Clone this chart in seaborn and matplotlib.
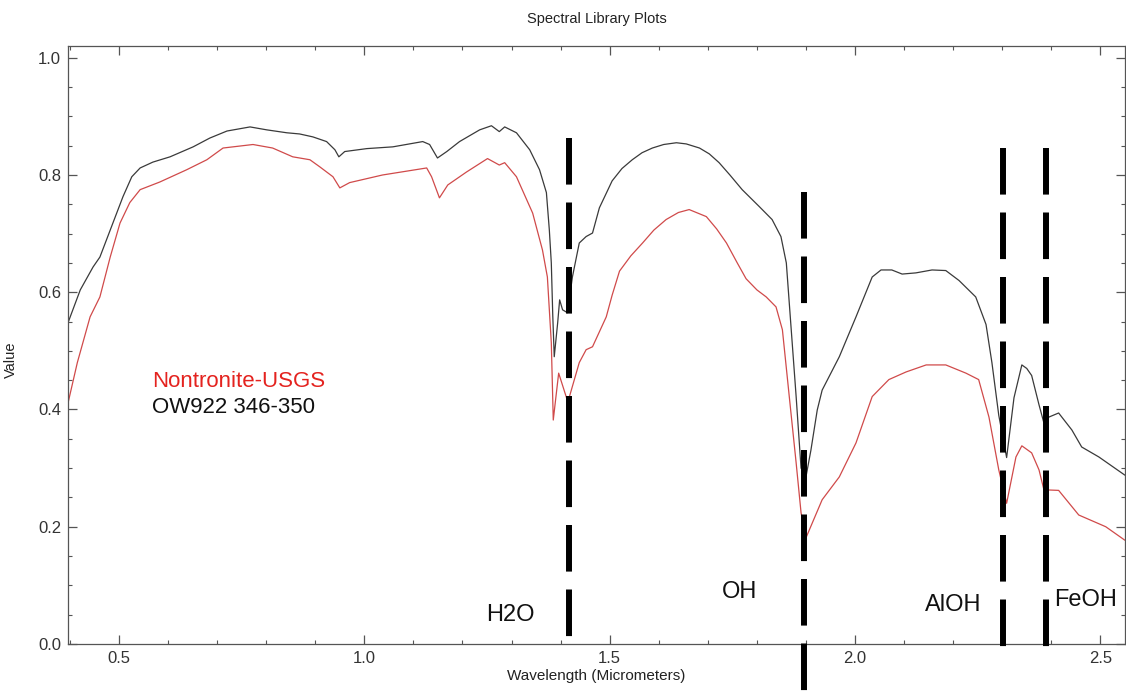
import numpy as np
import pandas as pd
import matplotlib
matplotlib.use("Agg")
import matplotlib.pyplot as plt
import seaborn as sns

# OW922 346-350 spectrum (black)
ow_wavelength = [0.396, 0.421, 0.447, 0.461, 0.482, 0.508, 0.526, 0.543, 0.569, 0.604,
                 0.651, 0.685, 0.720, 0.767, 0.801, 0.842, 0.868, 0.895, 0.923, 0.940,
                 0.948, 0.960, 1.005, 1.058, 1.119, 1.133, 1.149, 1.168, 1.194, 1.235,
                 1.259, 1.275, 1.286, 1.310, 1.337, 1.357, 1.371, 1.377, 1.381, 1.384,
                 1.387, 1.394, 1.398, 1.404, 1.414, 1.424, 1.438, 1.452, 1.465, 1.479,
                 1.505, 1.525, 1.546, 1.566, 1.587, 1.610, 1.636, 1.656, 1.683, 1.703,
                 1.723, 1.745, 1.770, 1.805, 1.831, 1.849, 1.860, 1.870, 1.880, 1.890,
                 1.900, 1.910, 1.923, 1.933, 1.968, 2.002, 2.035, 2.053, 2.075, 2.096,
                 2.124, 2.157, 2.185, 2.212, 2.246, 2.267, 2.279, 2.293, 2.309, 2.324,
                 2.340, 2.350, 2.360, 2.375, 2.385, 2.395, 2.415, 2.442, 2.462, 2.497,
                 2.550]
ow_value = [0.548, 0.604, 0.643, 0.660, 0.706, 0.763, 0.797, 0.812, 0.822, 0.831,
            0.848, 0.863, 0.875, 0.882, 0.877, 0.872, 0.870, 0.865, 0.857, 0.843,
            0.831, 0.840, 0.845, 0.848, 0.857, 0.852, 0.829, 0.840, 0.857, 0.877,
            0.884, 0.874, 0.882, 0.872, 0.843, 0.809, 0.770, 0.706, 0.650, 0.560,
            0.490, 0.548, 0.587, 0.570, 0.565, 0.626, 0.684, 0.695, 0.701, 0.744,
            0.790, 0.811, 0.826, 0.838, 0.846, 0.852, 0.855, 0.853, 0.846, 0.836,
            0.821, 0.800, 0.775, 0.746, 0.724, 0.695, 0.650, 0.536, 0.422, 0.300,
            0.285, 0.330, 0.399, 0.433, 0.490, 0.558, 0.626, 0.638, 0.638, 0.631,
            0.633, 0.638, 0.637, 0.620, 0.592, 0.545, 0.480, 0.390, 0.318, 0.420,
            0.476, 0.470, 0.458, 0.408, 0.377, 0.387, 0.394, 0.365, 0.336, 0.319,
            0.288]

# Nontronite-USGS library spectrum (red)
nont_wavelength = [0.396, 0.415, 0.441, 0.461, 0.482, 0.502, 0.522, 0.543, 0.583, 0.638,
                   0.679, 0.712, 0.773, 0.813, 0.854, 0.889, 0.909, 0.936, 0.950, 0.970,
                   1.037, 1.127, 1.137, 1.153, 1.170, 1.208, 1.251, 1.275, 1.286, 1.310,
                   1.343, 1.363, 1.373, 1.381, 1.385, 1.396, 1.412, 1.418, 1.438, 1.452,
                   1.465, 1.493, 1.505, 1.520, 1.543, 1.567, 1.590, 1.615, 1.640, 1.662,
                   1.697, 1.718, 1.738, 1.760, 1.778, 1.800, 1.819, 1.839, 1.852, 1.866,
                   1.880, 1.890, 1.900, 1.933, 1.968, 2.002, 2.035, 2.069, 2.104, 2.145,
                   2.185, 2.226, 2.252, 2.273, 2.293, 2.309, 2.328, 2.340, 2.360, 2.375,
                   2.385, 2.415, 2.456, 2.511, 2.550]
nont_value = [0.411, 0.480, 0.558, 0.592, 0.660, 0.718, 0.753, 0.775, 0.788, 0.809,
              0.826, 0.846, 0.852, 0.846, 0.831, 0.826, 0.814, 0.797, 0.778, 0.787,
              0.800, 0.812, 0.797, 0.761, 0.783, 0.805, 0.828, 0.817, 0.821, 0.797,
              0.735, 0.672, 0.626, 0.514, 0.382, 0.462, 0.420, 0.422, 0.480, 0.502,
              0.507, 0.558, 0.595, 0.636, 0.662, 0.684, 0.706, 0.724, 0.736, 0.741,
              0.729, 0.708, 0.684, 0.650, 0.623, 0.604, 0.592, 0.575, 0.536, 0.422,
              0.309, 0.224, 0.181, 0.246, 0.285, 0.343, 0.422, 0.451, 0.464, 0.476,
              0.476, 0.462, 0.451, 0.387, 0.297, 0.240, 0.319, 0.338, 0.326, 0.297,
              0.263, 0.262, 0.220, 0.200, 0.177]

# absorption feature markers: label, wavelength, dashed line top/bottom, label position
feature_labels = ["H2O", "OH", "AlOH", "FeOH"]
feature_wavelength = [1.418, 1.897, 2.302, 2.390]
feature_top = [0.863, 0.771, 0.846, 0.846]
feature_bottom = [0.010, -0.082, -0.005, -0.005]
label_x = [1.298, 1.764, 2.200, 2.470]
label_y = [0.049, 0.089, 0.067, 0.075]

sns.set_style("ticks")
plt.rcParams['font.family'] = ['Liberation Sans', 'DejaVu Sans']

fig = plt.figure(figsize=(11.26, 6.92), dpi=100)
ax = fig.add_axes([0.0604, 0.0694, 0.9386, 0.8641])

ow_df = pd.DataFrame({'Wavelength': ow_wavelength, 'Value': ow_value})
nont_df = pd.DataFrame({'Wavelength': nont_wavelength, 'Value': nont_value})

sns.lineplot(data=ow_df, x='Wavelength', y='Value', color='#3a3a3a', linewidth=0.9, ax=ax)
sns.lineplot(data=nont_df, x='Wavelength', y='Value', color='#d04a4a', linewidth=0.9, ax=ax)

# thick dashed markers, drawn top to bottom so the dash phase starts at the top
for wl, top, bot in zip(feature_wavelength, feature_top, feature_bottom):
    ax.plot([wl, wl], [top, bot], color='black', linewidth=4.3,
            dashes=(7.8, 3.0), clip_on=False, zorder=5)

for lab, lx, ly in zip(feature_labels, label_x, label_y):
    ax.text(lx, ly, lab, fontsize=17, ha='center', va='center', color='#111111')

ax.text(0.567, 0.447, "Nontronite-USGS", color='#e4231f', fontsize=16, va='center', ha='left')
ax.text(0.567, 0.403, "OW922 346-350", color='#111111', fontsize=16, va='center', ha='left')

ax.set_xlim(0.396, 2.55)
ax.set_ylim(0.0, 1.02)
ax.set_xticks([0.5, 1.0, 1.5, 2.0, 2.5])
ax.set_xticklabels(["0.5", "1.0", "1.5", "2.0", "2.5"])
ax.set_yticks([0.0, 0.2, 0.4, 0.6, 0.8, 1.0])
ax.set_yticklabels(["0.0", "0.2", "0.4", "0.6", "0.8", "1.0"])
ax.xaxis.set_minor_locator(matplotlib.ticker.MultipleLocator(0.1))
ax.yaxis.set_minor_locator(matplotlib.ticker.MultipleLocator(0.05))
ax.tick_params(which='both', direction='in', top=True, right=True, color='#555555')
ax.tick_params(which='major', length=6.5, width=0.9, labelsize=12, labelcolor='#333333', pad=5)
ax.tick_params(which='minor', length=3, width=0.8)
for sp in ax.spines.values():
    sp.set_color('#555555')
    sp.set_linewidth(0.9)

ax.set_xlabel("Wavelength (Micrometers)", fontsize=11, color='#222222', labelpad=2)
ax.set_ylabel("Value", fontsize=10.5, color='#222222', labelpad=9)
ax.yaxis.set_label_coords(-0.047, 0.475)
fig.text(0.530, 0.973, "Spectral Library Plots", fontsize=10.5, ha='center', va='center',
         color='#222222')

fig.savefig("out.png", dpi=100)
